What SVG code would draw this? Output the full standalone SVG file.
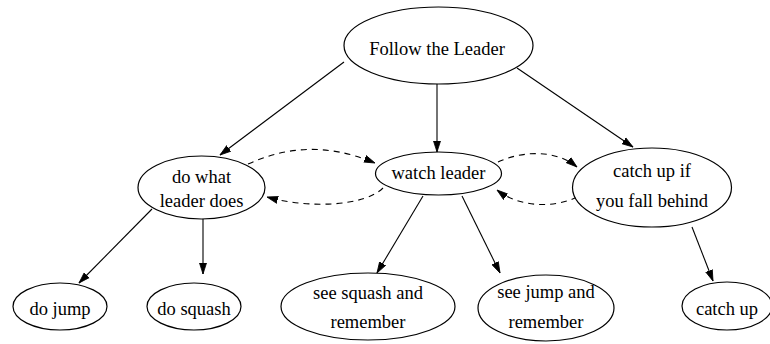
<svg xmlns="http://www.w3.org/2000/svg" width="770" height="344" viewBox="0 0 770 344">
<style>
.n ellipse{fill:#fff;stroke:#000;stroke-width:1.2}
.n text{font-family:"Liberation Serif","Times New Roman",serif;font-size:18.5px;fill:#000;text-anchor:middle}
.e path{fill:none;stroke:#000;stroke-width:1.1}
.e .d{stroke-dasharray:6,5}
</style>
<defs>
<marker id="ah" markerUnits="userSpaceOnUse" markerWidth="12" markerHeight="10" refX="11" refY="4" orient="auto" viewBox="0 0 12 8">
<path d="M0,0.5 L11,4 L0,7.5 Z" fill="#000" stroke="#000" stroke-width="0.8"/>
</marker>
</defs>
<rect width="770" height="344" fill="#fff"/>
<g id="edges" class="e">
<path d="M344,62 L220,155" marker-end="url(#ah)"/>
<path d="M437,84 L437,152" marker-end="url(#ah)"/>
<path d="M517,68 L633,147" marker-end="url(#ah)"/>
<path d="M152,209 L79,283" marker-end="url(#ah)"/>
<path d="M203,219 L203,274" marker-end="url(#ah)"/>
<path d="M423,196 L377,273" marker-end="url(#ah)"/>
<path d="M462,196 L500,273" marker-end="url(#ah)"/>
<path d="M692,227 L713,281" marker-end="url(#ah)"/>
<path class="d" d="M248,164 C282,149 322,141 375,163" marker-end="url(#ah)"/>
<path class="d" d="M383,188 C365,206 310,209 267,197" marker-end="url(#ah)"/>
<path class="d" d="M498,162 C522,151 555,149 577,167" marker-end="url(#ah)"/>
<path class="d" d="M577,197 C555,208 520,208 497,190" marker-end="url(#ah)"/>
</g>
<g id="follow" class="n"><ellipse cx="438.5" cy="45.5" rx="94.5" ry="38.5"/><text x="437" y="55">Follow the Leader</text></g>
<g id="dowhat" class="n"><ellipse cx="201.5" cy="187.5" rx="63.5" ry="31.5"/><text x="201.5" y="183">do what</text><text x="201.5" y="207">leader does</text></g>
<g id="watch" class="n"><ellipse cx="438.5" cy="173.5" rx="63" ry="21.5"/><text x="438.5" y="178.5">watch leader</text></g>
<g id="catchupif" class="n"><ellipse cx="652" cy="187.5" rx="79.5" ry="39.5"/><text x="652" y="177">catch up if</text><text x="652" y="207">you fall behind</text></g>
<g id="dojump" class="n"><ellipse cx="60" cy="306.5" rx="47" ry="23.5"/><text x="60" y="315">do jump</text></g>
<g id="dosquash" class="n"><ellipse cx="194" cy="306.5" rx="47" ry="23.5"/><text x="194" y="315">do squash</text></g>
<g id="seesquash" class="n"><ellipse cx="368" cy="306.5" rx="87" ry="33.5"/><text x="368" y="299">see squash and</text><text x="368" y="328">remember</text></g>
<g id="seejump" class="n"><ellipse cx="546" cy="308" rx="68" ry="33"/><text x="546" y="298">see jump and</text><text x="546" y="328">remember</text></g>
<g id="catchup" class="n"><ellipse cx="727" cy="306" rx="45" ry="24"/><text x="727" y="315">catch up</text></g>
</svg>
